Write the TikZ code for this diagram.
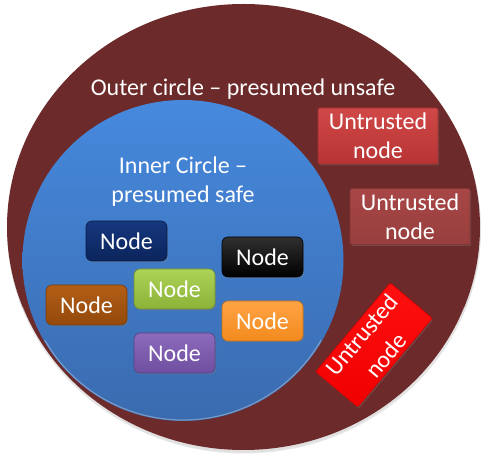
\documentclass[tikz,border=0pt]{standalone}
\usepackage{fontspec}
\setmainfont{Carlito}
\usetikzlibrary{shadows}
\definecolor{outerc}{HTML}{6D2A2A}
\definecolor{bluetop}{HTML}{4689DD}
\definecolor{bluebot}{HTML}{3A6BAF}
\definecolor{uat}{HTML}{D04848}\definecolor{uab}{HTML}{B83434}
\definecolor{ubt}{HTML}{A84646}\definecolor{ubb}{HTML}{983E3E}
\definecolor{uct}{HTML}{FF1010}\definecolor{ucb}{HTML}{F00000}
\definecolor{navt}{HTML}{16387E}\definecolor{navb}{HTML}{0B245C}
\definecolor{blkt}{HTML}{303030}\definecolor{blkb}{HTML}{000000}
\definecolor{grnt}{HTML}{ACD356}\definecolor{grnb}{HTML}{8CB238}
\definecolor{brnt}{HTML}{B35E16}\definecolor{brnb}{HTML}{93490B}
\definecolor{orgt}{HTML}{FFA444}\definecolor{orgb}{HTML}{F28A1E}
\definecolor{purt}{HTML}{8C6ABC}\definecolor{purb}{HTML}{6F4FA0}
\tikzset{
  lbl/.style={text=white,font=\fontsize{24}{29}\selectfont,align=center,inner sep=0pt},
  nodebox/.style 2 args={lbl,minimum width=81pt,minimum height=40pt,rounded corners=6pt,
     top color=#1,bottom color=#2,draw=#2!80!black,line width=0.6pt,
     drop shadow={opacity=0.35,shadow xshift=1pt,shadow yshift=-1.5pt}},
  untrusted/.style 2 args={lbl,minimum width=120pt,minimum height=56pt,rounded corners=1.5pt,
     top color=#1,bottom color=#2,draw=#2!85!black,line width=0.6pt,
     drop shadow={opacity=0.35,shadow xshift=1pt,shadow yshift=-1.5pt}},
}
\begin{document}
\begin{tikzpicture}[x=1pt,y=-1pt]
\useasboundingbox (0,0) rectangle (485,462);
\fill[white] (0,0) rectangle (485,462);
% outer circle with soft shadow
\fill[black,opacity=0.12] (244,229.5) ellipse [x radius=237, y radius=224];
\fill[outerc] (243.5,227) ellipse [x radius=236.5, y radius=223];
\draw[white,opacity=0.25,line width=1.2pt] (243.5,227) ++(160:235) arc[start angle=160,end angle=20,x radius=235,y radius=221.5];
% inner circle
\shade[top color=bluetop,bottom color=bluebot] (183,260.5) circle [radius=160.5];
\draw[white,opacity=0.3,line width=1.2pt] (183,260.5) ++(150:159.5) arc[start angle=150,end angle=30,radius=159.5];
% texts
\node[lbl] (outertxt) at (243,89) {Outer circle -- presumed unsafe};
\node[lbl] (innertxt) at (183,182) {Inner Circle --\\presumed safe};
% untrusted nodes
\node[untrusted={uat}{uab}] (u1) at (378,136) {Untrusted\\node};
\node[untrusted={ubt}{ubb}] (u2) at (410,216.5) {Untrusted\\node};
\node[untrusted={uct}{ucb},minimum width=116pt,minimum height=55pt,rotate=50,font=\fontsize{24}{32}\selectfont] (u3) at (374,345) {Untrusted\\node};
% inner nodes
\node[nodebox={navt}{navb}] (n1) at (126.5,241) {Node};
\node[nodebox={blkt}{blkb}] (n2) at (262.5,257) {Node};
\node[nodebox={grnt}{grnb}] (n3) at (174.5,289) {Node};
\node[nodebox={brnt}{brnb}] (n4) at (86.5,305) {Node};
\node[nodebox={orgt}{orgb}] (n5) at (262.5,321) {Node};
\node[nodebox={purt}{purb}] (n6) at (174.5,353) {Node};
\end{tikzpicture}
\end{document}
